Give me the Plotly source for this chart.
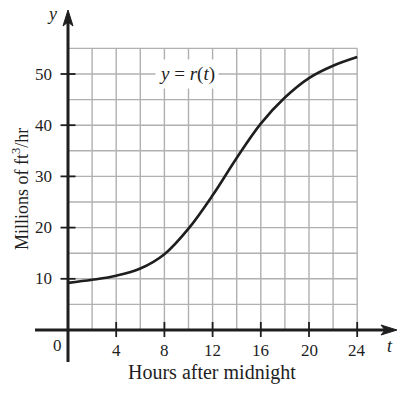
import plotly.graph_objects as go

# ---- data ----
t_vals = [0, 2, 4, 6, 8, 10, 12, 14, 16, 18, 20, 22, 24]
r_vals = [9.2, 9.8, 10.6, 12.0, 14.8, 19.8, 26.3, 33.6, 40.3, 45.4, 49.2, 51.6, 53.3]
x_ticks = [4, 8, 12, 16, 20, 24]
x_tick_labels = ["4", "8", "12", "16", "20", "24"]
y_ticks = [10, 20, 30, 40, 50]
y_tick_labels = ["10", "20", "30", "40", "50"]
x_grid = list(range(2, 25, 2))
y_grid = list(range(5, 56, 5))

W, H = 416, 396
PX = 12.05   # pixels per x unit
PY = 5.12    # pixels per y unit
X0PIX, Y0PIX = 68, 330
xr = [-X0PIX / PX, (W - X0PIX) / PX]
yr = [-(H - Y0PIX) / PY, Y0PIX / PY]
dx = 1 / PX
dy = 1 / PY

FONT = "Liberation Serif"
GRID = "#b0b0b0"
INK = "#1e1e1e"

fig = go.Figure()
shapes = []
# grid
for gx in x_grid:
    shapes.append(dict(type="line", x0=gx, x1=gx, y0=0, y1=55, xref="x", yref="y",
                       line=dict(color=GRID, width=1.4), layer="below"))
for gy in y_grid:
    shapes.append(dict(type="line", x0=0, x1=24, y0=gy, y1=gy, xref="x", yref="y",
                       line=dict(color=GRID, width=1.4), layer="below"))

# axes
y_tip = (Y0PIX - 10) * dy
x_tip = (397 - X0PIX) * dx
shapes.append(dict(type="line", x0=0, x1=0, y0=-(362 - Y0PIX) * dy, y1=y_tip - 10 * dy,
                   line=dict(color=INK, width=3)))
shapes.append(dict(type="line", x0=-(X0PIX - 35) * dx, x1=x_tip - 10 * dx, y0=0, y1=0,
                   line=dict(color=INK, width=3)))
# arrowheads
shapes.append(dict(type="path", fillcolor=INK, line=dict(color=INK, width=1),
                   path=f"M 0 {y_tip} L {5*dx} {y_tip-16*dy} L 0 {y_tip-12*dy} L {-5*dx} {y_tip-16*dy} Z"))
shapes.append(dict(type="path", fillcolor=INK, line=dict(color=INK, width=1),
                   path=f"M {x_tip} 0 L {x_tip-16*dx} {5*dy} L {x_tip-12*dx} 0 L {x_tip-16*dx} {-5*dy} Z"))
# ticks
for yt in y_ticks:
    shapes.append(dict(type="line", x0=-7.5 * dx, x1=7.5 * dx, y0=yt, y1=yt,
                       line=dict(color=INK, width=1.8)))
for xt in x_ticks:
    shapes.append(dict(type="line", x0=xt, x1=xt, y0=-7 * dy, y1=8 * dy,
                       line=dict(color=INK, width=1.8)))

fig.add_trace(go.Scatter(x=t_vals, y=r_vals, mode="lines",
                         line=dict(color=INK, width=2.6, shape="spline", smoothing=1.0),
                         hoverinfo="skip", showlegend=False))

ann = []
for yt, lab in zip(y_ticks, y_tick_labels):
    ann.append(dict(x=-14 * dx, y=yt, text=lab, xanchor="right", yanchor="middle",
                    showarrow=False, font=dict(family=FONT, size=17, color=INK)))
for xt, lab in zip(x_ticks, x_tick_labels):
    ann.append(dict(x=xt, y=-20 * dy, text=lab, xanchor="center", yanchor="middle",
                    showarrow=False, font=dict(family=FONT, size=17, color=INK)))
ann.append(dict(x=-11 * dx, y=-15 * dy, text="0", xanchor="center", yanchor="middle",
                showarrow=False, font=dict(family=FONT, size=17, color=INK)))
ann.append(dict(x=-16 * dx, y=y_tip - 4 * dy, text="<i>y</i>", xanchor="center", yanchor="middle",
                showarrow=False, font=dict(family=FONT, size=18, color=INK)))
ann.append(dict(x=(390 - X0PIX) * dx, y=-16 * dy, text="<i>t</i>", xanchor="center", yanchor="middle",
                showarrow=False, font=dict(family=FONT, size=18, color=INK)))
ann.append(dict(x=(187 - X0PIX) * dx, y=50, text="<i>y</i>\u00a0=\u00a0<i>r</i>(<i>t</i>)",
                xanchor="center", yanchor="middle", showarrow=False, bgcolor="white",
                borderpad=3, font=dict(family=FONT, size=19, color=INK)))
ann.append(dict(x=(212 - X0PIX) * dx, y=-(372 - Y0PIX) * dy, text="Hours after midnight",
                xanchor="center", yanchor="middle", showarrow=False,
                font=dict(family=FONT, size=20, color=INK)))
ann.append(dict(x=(20 - X0PIX) * dx, y=(Y0PIX - 189) * dy, text="Millions of ft<sup>3</sup>/hr",
                xanchor="center", yanchor="middle", showarrow=False, textangle=-90,
                font=dict(family=FONT, size=18, color=INK)))

fig.update_layout(
    width=W, height=H, margin=dict(l=0, r=0, t=0, b=0),
    paper_bgcolor="white", plot_bgcolor="white",
    xaxis=dict(range=xr, visible=False, fixedrange=True),
    yaxis=dict(range=yr, visible=False, fixedrange=True),
    shapes=shapes, annotations=ann, showlegend=False,
)
fig.write_html("out.html", config={"displayModeBar": False},
               post_script="document.body.style.margin='0';document.body.style.overflow='hidden';")
